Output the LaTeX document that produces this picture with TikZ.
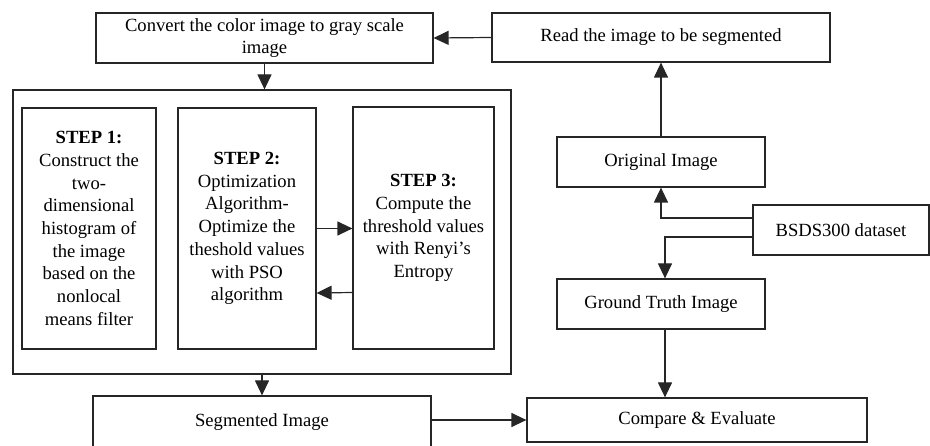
\documentclass[tikz,border=0pt]{standalone}
\usepackage{fontspec}
\setmainfont{Liberation Serif}
\usetikzlibrary{arrows.meta,calc}
\begin{document}
\begin{tikzpicture}[x=1pt,y=-1pt,
  box/.style={draw=black!85, line width=1.2pt, inner sep=0pt, font=\fontsize{18.6}{22.7}\selectfont, align=center},
  arr/.style={-{Triangle[length=15pt,width=14pt]}, line width=1.2pt, draw=black!85}]
\useasboundingbox (0,0) rectangle (930,446);
\clip (0,0) rectangle (930,446);
\node[box, minimum width=337pt, minimum height=50pt] (convert) at (264.5,38) {Convert the color image to gray scale\\image};
\node[box, minimum width=338pt, minimum height=49pt] (read) at (661,37.5) {Read the image to be segmented};
\node[box, minimum width=498pt, minimum height=284pt] (outer) at (262,232) {};
\node[box, minimum width=134pt, minimum height=241pt] (step1) at (89,228.5) {\textbf{STEP 1:}\\Construct the\\two-\\dimensional\\histogram of\\the image\\based on the\\nonlocal\\means filter};
\node[box, minimum width=138pt, minimum height=241pt] (step2) at (247,228.5) {\textbf{STEP 2:}\\Optimization\\Algorithm-\\Optimize the\\theshold values\\with PSO\\algorithm};
\node[box, minimum width=141pt, minimum height=242pt] (step3) at (423.5,228) {\textbf{STEP 3:}\\Compute the\\threshold values\\with Renyi’s\\Entropy};
\node[box, minimum width=338pt, minimum height=52pt] (seg) at (262,422) {Segmented Image};
\node[box, minimum width=340pt, minimum height=44pt] (cmp) at (697,420) {Compare \& Evaluate};
\node[box, minimum width=208pt, minimum height=50pt] (orig) at (661,162) {Original Image};
\node[box, minimum width=176pt, minimum height=50pt] (bsds) at (841,230) {BSDS300 dataset};
\node[box, minimum width=208pt, minimum height=50pt] (gt) at (661,304) {Ground Truth Image};
\draw[arr] (read.west) -- (convert.east);
\draw[arr] (convert.south) -- (convert.south |- outer.north);
\draw[arr] (step2.east) -- (step3.west |- step2.east);
\draw[arr] ([yshift=-64.5pt]step3.west) -- ([yshift=-64.5pt]step2.east);
\draw[arr] (outer.south) -- (seg.north);
\draw[arr] ([yshift=2pt]seg.east) -- (cmp.west);
\draw[arr] (orig.north) -- (read.south);
\draw[arr] ([yshift=12pt]bsds.west) -| (orig.south);
\draw[arr] ([yshift=-7pt]bsds.west) -| ([xshift=4pt]gt.north);
\draw[arr] ([xshift=4pt]gt.south) -- ([xshift=4pt]gt.south |- cmp.north);
\end{tikzpicture}
\end{document}
